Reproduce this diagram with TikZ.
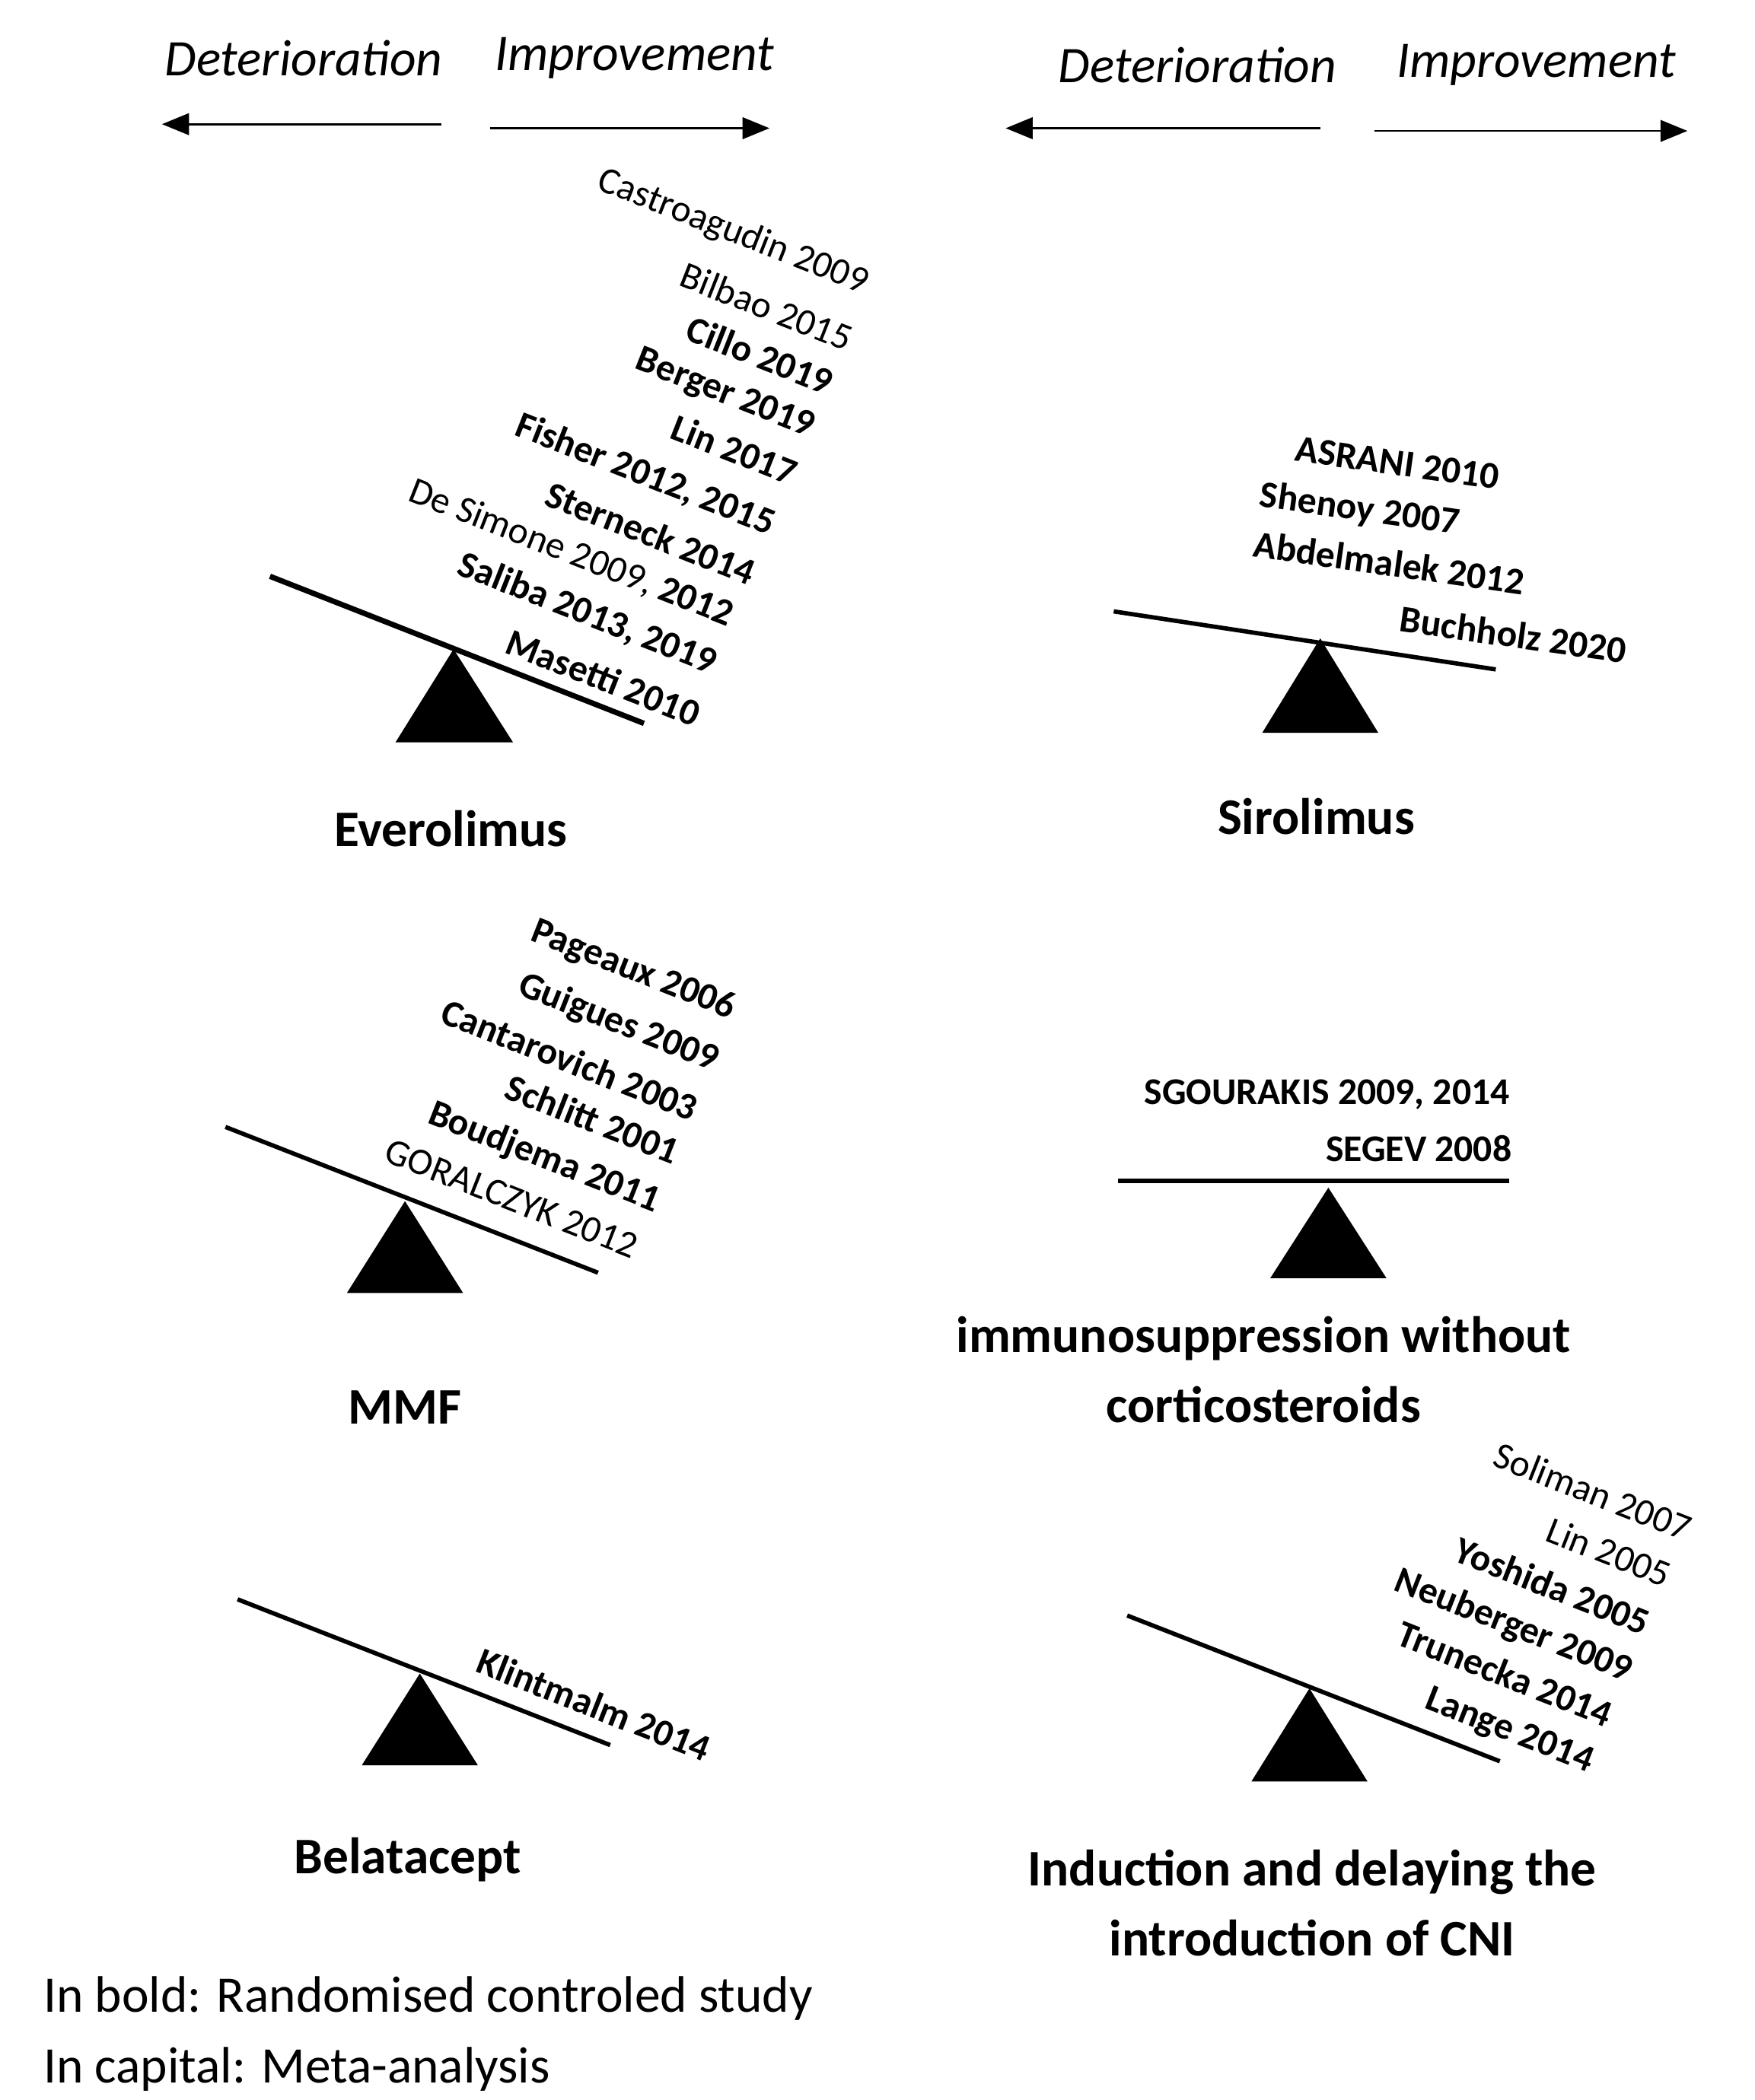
\documentclass[tikz,border=0pt]{standalone}
\usepackage{fontspec}
\setmainfont{Carlito}
\usetikzlibrary{arrows.meta}
\begin{document}
\begin{tikzpicture}[x=1pt,y=-1pt,
  head/.style={font=\fontsize{38}{42}\selectfont\itshape},
  lab/.style={font=\fontsize{38}{52}\selectfont\bfseries,align=center},
  st/.style={font=\fontsize{28}{32}\selectfont\bfseries,inner sep=0pt},
  sn/.style={font=\fontsize{28}{32}\selectfont,inner sep=0pt},
  beam/.style={line width=3.2pt},
  arr/.style={line width=1.6pt,-{Triangle[length=20pt,width=16pt]}},
  tri/.style={fill=black}]
\useasboundingbox (0,0) rectangle (1300,1556);
% headers
\node[head] (d1) at (225,43) {Deterioration};
\node[head] (i1) at (470,43) {Improvement};
\coordinate (a1s) at (327,92); \coordinate (a1e) at (120,92);
\coordinate (a2s) at (363,95); \coordinate (a2e) at (570,95);
\draw[arr] (a1s) -- (a1e); \draw[arr] (a2s) -- (a2e);
\node[head] (d2) at (887,48) {Deterioration};
\node[head] (i2) at (1138,48) {Improvement};
\coordinate (a3s) at (978,95); \coordinate (a3e) at (745,95);
\coordinate (a4s) at (1018,97); \coordinate (a4e) at (1250,97);
\draw[arr] (a3s) -- (a3e); \draw[arr] (a4s) -- (a4e);
% Everolimus
\coordinate (e1) at (200,427); \coordinate (e2) at (477,536);
\draw[beam,line width=4pt] (e1) -- (e2);
\fill[tri] (336,481) -- (293,550) -- (380,550) -- cycle;
\node[lab] (ev) at (334,614) {Everolimus};
\begin{scope}[every node/.append style={rotate=-21.5}]
\node[sn] (t1) at (543,172) {Castroagudin 2009};
\node[sn] (t2) at (568,227) {Bilbao 2015};
\node[st] (t3) at (563,263) {Cillo 2019};
\node[st] (t4) at (537,292) {Berger 2019};
\node[st] (t5) at (544,333) {Lin 2017};
\node[st] (t6) at (478,352) {Fisher 2012, 2015};
\node[st] (t7) at (482,395) {Sterneck 2014};
\node[sn] (t8) at (423,410) {De Simone 2009, \textbf{2012}};
\node[st] (t9) at (435,455) {Saliba 2013, 2019};
\node[st] (t10) at (447,502) {Masetti 2010};
\end{scope}
% Sirolimus
\coordinate (s1) at (825,453); \coordinate (s2) at (1108,496);
\draw[beam] (s1) -- (s2);
\fill[tri] (978,473) -- (935,543) -- (1021,543) -- cycle;
\node[lab] (si) at (975,605) {Sirolimus};
\begin{scope}[every node/.append style={rotate=-8}]
\node[st] (u1) at (1035,343) {ASRANI 2010};
\node[st] (u2) at (1007,378) {Shenoy 2007};
\node[st] (u3) at (1029,417) {Abdelmalek 2012};
\node[st] (u4) at (1121,470) {Buchholz 2020};
\end{scope}
% MMF
\coordinate (m1) at (167,835); \coordinate (m2) at (443,943);
\draw[beam] (m1) -- (m2);
\fill[tri] (300,890) -- (257,958) -- (343,958) -- cycle;
\node[lab] (mm) at (300,1043) {MMF};
\begin{scope}[every node/.append style={rotate=-21.5}]
\node[st] (v1) at (469,719) {Pageaux 2006};
\node[st] (v2) at (458,758) {Guigues 2009};
\node[st] (v3) at (422,785) {Cantarovich 2003};
\node[st] (v4) at (439,829) {Schlitt 2001};
\node[st] (v5) at (403,858) {Boudjema 2011};
\node[sn] (v6) at (379,888) {GORALCZYK 2012};
\end{scope}
% corticosteroids
\coordinate (c1) at (828,875); \coordinate (c2) at (1118,875);
\draw[beam] (c1) -- (c2);
\fill[tri] (984,880) -- (941,947) -- (1027,947) -- cycle;
\node[st] (w1) at (983,811) {SGOURAKIS 2009, 2014};
\node[st] (w2) at (1051,851) {SEGEV 2008};
\node[lab] (co) at (936,1015) {immunosuppression without\\corticosteroids};
% Belatacept
\coordinate (b1) at (176,1185); \coordinate (b2) at (452,1293);
\draw[beam] (b1) -- (b2);
\fill[tri] (311,1240) -- (268,1308) -- (354,1308) -- cycle;
\node[st,rotate=-21.5] (x1) at (440,1263) {Klintmalm 2014};
\node[lab] (be) at (302,1378) {Belatacept};
% Induction
\coordinate (n1) at (835,1197); \coordinate (n2) at (1111,1305);
\draw[beam] (n1) -- (n2);
\fill[tri] (970,1251) -- (927,1320) -- (1013,1320) -- cycle;
\begin{scope}[every node/.append style={rotate=-21.5}]
\node[sn] (y1) at (1180,1105) {Soliman 2007};
\node[sn] (y2) at (1192,1150) {Lin 2005};
\node[st] (y3) at (1150,1175) {Yoshida 2005};
\node[st] (y4) at (1121,1205) {Neuberger 2009};
\node[st] (y5) at (1115,1240) {Trunecka 2014};
\node[st] (y6) at (1118,1283) {Lange 2014};
\end{scope}
\node[lab] (in) at (972,1410) {Induction and delaying the\\introduction of CNI};
% legend
\node[anchor=west,font=\fontsize{38}{42}\selectfont,inner sep=0pt] (l1) at (32,1481) {In bold: Randomised controled study};
\node[anchor=west,font=\fontsize{38}{42}\selectfont,inner sep=0pt] (l2) at (32,1533) {In capital: Meta-analysis};
\end{tikzpicture}
\end{document}
